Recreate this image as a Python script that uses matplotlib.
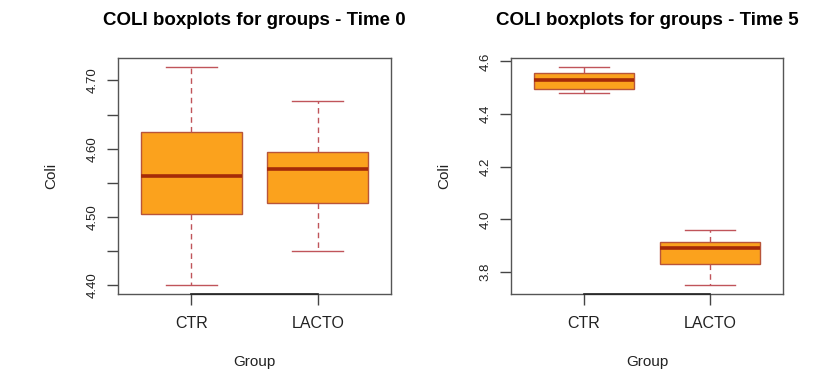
import matplotlib
matplotlib.use('Agg')
import matplotlib.pyplot as plt

plt.rcParams['font.family'] = ['Liberation Sans', 'DejaVu Sans']

groups = ['CTR', 'LACTO']

# Time 0 box statistics
t0_low = [4.40, 4.45]
t0_q1 = [4.505, 4.52]
t0_med = [4.56, 4.57]
t0_q3 = [4.625, 4.595]
t0_high = [4.72, 4.67]

# Time 5 box statistics
t5_low = [4.48, 3.75]
t5_q1 = [4.495, 3.83]
t5_med = [4.53, 3.89]
t5_q3 = [4.555, 3.915]
t5_high = [4.58, 3.96]

t0_ticks = [4.40, 4.45, 4.50, 4.55, 4.60, 4.65, 4.70]
t0_labels = ['4.40', '', '4.50', '', '4.60', '', '4.70']
t5_ticks = [3.8, 4.0, 4.2, 4.4, 4.6]
t5_labels = ['3.8', '4.0', '4.2', '4.4', '4.6']

fill = '#FBA21D'
border = '#B8553A'


def panel(ax, low, q1, med, q3, high, ticks, labels, title):
    stats = []
    for i in range(len(groups)):
        stats.append(dict(whislo=low[i], q1=q1[i], med=med[i], q3=q3[i],
                          whishi=high[i], fliers=[], label=groups[i]))
    pos = list(range(1, len(groups) + 1))
    ax.bxp(stats, positions=pos, widths=0.8, patch_artist=True,
           showfliers=False,
           boxprops=dict(facecolor=fill, edgecolor=border, linewidth=1),
           medianprops=dict(color='#A52A08', linewidth=2.6),
           whiskerprops=dict(color='#C0545A', linewidth=1, linestyle=(0, (4, 3))),
           capprops=dict(color='#C0545A', linewidth=1))
    lo, hi = min(low), max(high)
    pad = (hi - lo) * 0.04
    ax.set_ylim(lo - pad, hi + pad)
    ax.set_xlim(0.5 - 0.08, len(groups) + 0.5 + 0.08)
    # R style axis line between first and last tick
    ax.plot([pos[0], pos[-1]], [lo - pad, lo - pad], color='#222222', lw=1.2,
            clip_on=False, zorder=5)

    ax.set_yticks(ticks)
    ax.set_yticklabels(labels, rotation=90, va='center')
    ax.set_xticks(pos)
    ax.set_xticklabels(groups)
    ax.tick_params(axis='y', length=8, width=1, color='#444444', labelsize=9.5,
                   pad=6, labelcolor='#222222')
    ax.tick_params(axis='x', length=8, width=1, color='#444444', labelsize=11.5,
                   pad=8, labelcolor='#222222')
    for s in ax.spines.values():
        s.set_color('#555555')
        s.set_linewidth(1)

    ax.set_ylabel('Coli', fontsize=11, color='#222222', va='center')
    ax.yaxis.set_label_coords(-0.245, 0.5)
    ax.set_xlabel('Group', fontsize=11, color='#222222', va='center')
    ax.xaxis.set_label_coords(0.5, -0.288)
    ax.set_title(title, fontsize=13.5, fontweight='bold', pad=24)


fig = plt.figure(figsize=(8.32, 3.73), dpi=100)
ax1 = fig.add_axes([118 / 832, 1 - 294 / 373, 273 / 832, 236 / 373])
ax2 = fig.add_axes([511 / 832, 1 - 294 / 373, 272 / 832, 236 / 373])

panel(ax1, t0_low, t0_q1, t0_med, t0_q3, t0_high, t0_ticks, t0_labels,
      'COLI boxplots for groups - Time 0')
panel(ax2, t5_low, t5_q1, t5_med, t5_q3, t5_high, t5_ticks, t5_labels,
      'COLI boxplots for groups - Time 5')

fig.savefig('out.png', dpi=100)
